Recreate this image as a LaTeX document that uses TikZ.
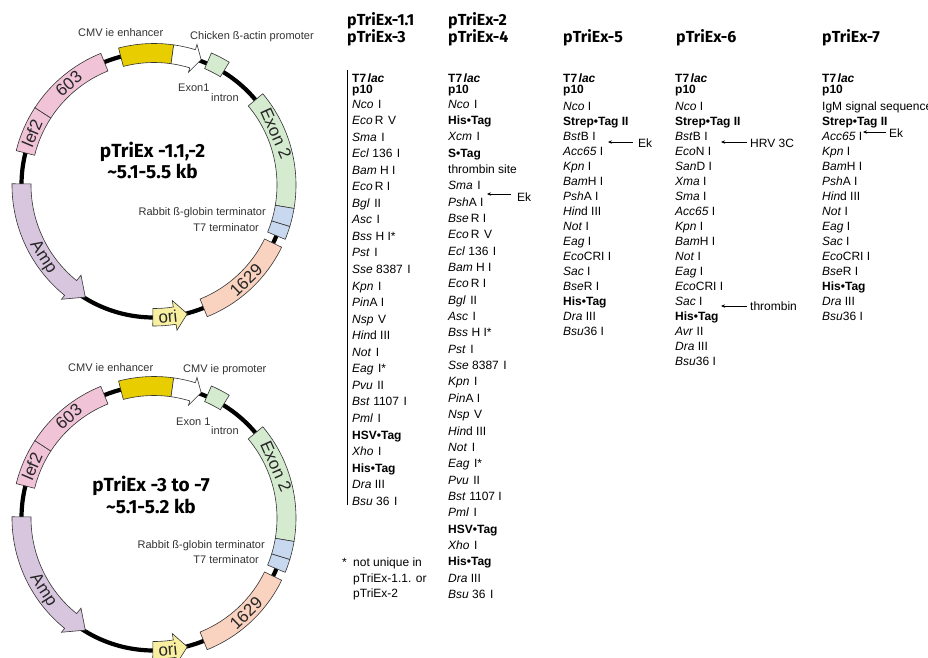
\documentclass[tikz,border=0pt]{standalone}
\usepackage{fontspec}
\setmainfont{Liberation Sans}
\newfontfamily\hfont{Fira Sans}
\usetikzlibrary{arrows.meta}
\definecolor{cmvY}{RGB}{232,206,0}
\definecolor{pinkS}{RGB}{240,196,214}
\definecolor{greenS}{RGB}{213,235,207}
\definecolor{blueS}{RGB}{200,216,238}
\definecolor{salmonS}{RGB}{250,211,192}
\definecolor{lavS}{RGB}{215,198,222}
\definecolor{oriY}{RGB}{248,240,160}
\newcommand\iz[1]{\textit{#1}}
\newcommand\gp{\hspace{4.5pt}}
\newcommand\bt[1]{\textbf{#1}}
\newcommand\seg[5]{\filldraw[segline,fill=#5] (#1:#4) arc[start angle=#1,end angle=#2,radius=#4] -- (#2:#3) arc[start angle=#2,end angle=#1,radius=#3] -- cycle;}
\newcommand\arrseg[9]{\filldraw[segline,fill=#9] (#1:#5) arc[start angle=#1,end angle=#2,radius=#5] -- (#2:#7) -- (#3:#8) -- (#2:#6) -- (#2:#4) arc[start angle=#2,end angle=#1,radius=#4] -- cycle;}
\newcommand\plasmid[3]{%
\begin{scope}[shift={(#2,#3)},yscale=-1]
 \draw[ring] (0,0) circle[radius=132.5];
 \seg{147}{166}{123}{142}{pinkS}
 \seg{112}{147}{123}{142}{pinkS}
 \seg{82}{104.5}{122.5}{141.5}{cmvY}
 \arrseg{82}{73}{69.4}{122.5}{141.5}{118}{147}{134}{white}
 \seg{58.5}{66.5}{127}{144}{greenS}
 \seg{-9.5}{40}{123}{142}{greenS}
 \seg{-17}{-9.5}{123}{142}{blueS}
 \seg{-22.5}{-17}{123}{142}{blueS}
 \seg{-68}{-26}{123}{142}{salmonS}
 \arrseg{-90.5}{-81}{-75.5}{123.5}{141}{117}{147}{133}{oriY}
 \arrseg{179.5}{231}{238.5}{123}{142}{116}{147}{131.5}{lavS}
 \node[seglabel, rotate=40] (#1-603) at (130:132.5) {603};
 \node[seglabel, rotate=67] (#1-lef) at (157:132.5) {lef2};
 \node[seglabel, rotate=-66] (#1-ex2) at (23:132.5) {Exon 2};
 \node[seglabel, rotate=44] (#1-1629) at (-46:132.5) {1629};
 \node[seglabel, rotate=-57] (#1-amp) at (213:132.5) {Amp};
 \node[seglabel, rotate=6] (#1-ori) at (-84:132.5) {ori};
\end{scope}}
\begin{document}
\begin{tikzpicture}[x=1pt,y=-1pt,
  segline/.style={draw=black!80, line width=0.6pt},
  ring/.style={line width=4.2pt},
  seglabel/.style={font=\fontsize{17}{17}\selectfont, text=black!85, inner sep=0},
  maplabel/.style={font=\fontsize{11}{11}\selectfont, text=black!80, inner sep=0},
  body/.style={font=\fontsize{12}{12}\selectfont, inner sep=0, anchor=base west},
  hdr/.style={font=\hfont\bfseries\fontsize{16}{16}\selectfont, inner sep=0, anchor=base west},
  ctr/.style={font=\hfont\bfseries\fontsize{19}{19}\selectfont, inner sep=0, anchor=base},
  cut/.style={-{Stealth[length=4pt,width=3.4pt]}, line width=0.7pt}]
\path[use as bounding box, fill=white] (0,0) rectangle (928,657);

% plasmid maps
\plasmid{t}{154}{185}
\plasmid{b}{154}{518}
\node[ctr] (t-name) at (152.5,157) {pTriEx -1.1,-2};
\node[ctr] (t-size) at (152.5,178) {\textasciitilde5.1-5.5 kb};
\node[ctr] (b-name) at (151,491) {pTriEx -3 to -7};
\node[ctr] (b-size) at (151,513) {\textasciitilde5.1-5.2 kb};

\node[maplabel, anchor=base west] (t-cmv) at (78,36) {CMV ie enhancer};
\node[maplabel, anchor=base west] (t-prom) at (190,39) {Chicken ß-actin promoter};
\node[maplabel, anchor=base west] (t-ex1) at (178,91) {Exon1};
\node[maplabel, anchor=base west] (t-intron) at (211,101) {intron};
\node[maplabel, anchor=base east] (t-rab) at (266,215) {Rabbit ß-globin terminator};
\node[maplabel, anchor=base east] (t-t7) at (259,231) {T7 terminator};

\node[maplabel, anchor=base west] (b-cmv) at (68,371) {CMV ie enhancer};
\node[maplabel, anchor=base west] (b-prom) at (183,372) {CMV ie promoter};
\node[maplabel, anchor=base west] (b-ex1) at (176,425) {Exon 1};
\node[maplabel, anchor=base west] (b-intron) at (211,434) {intron};
\node[maplabel, anchor=base east] (b-rab) at (265,548) {Rabbit ß-globin terminator};
\node[maplabel, anchor=base east] (b-t7) at (259,563) {T7 terminator};

% headers
\node[hdr] (h1) at (347,25) {pTriEx-1.1};
\node[hdr] (h3) at (347,42) {pTriEx-3};
\node[hdr] (h2) at (448,25) {pTriEx-2};
\node[hdr] (h4) at (448,42) {pTriEx-4};
\node[hdr] (h5) at (563,42) {pTriEx-5};
\node[hdr] (h6) at (676,42) {pTriEx-6};
\node[hdr] (h7) at (822,42) {pTriEx-7};

% column 1
\coordinate (c1-top) at (347,70);
\coordinate (c1-bot) at (347,505);
\draw[line width=0.9pt] (c1-top) -- (c1-bot);
\node[body] (c1-t7) at (352,82) {\bt{T7\kern1.5pt\iz{lac}}};
\node[body] (c1-p10) at (352,93) {\bt{p10}};
\foreach \entry [count=\i from 0] in {{\iz{Nco}\gp I},{\iz{Eco}\,R\gp V},{\iz{Sma}\gp I},{\iz{Ecl} 136\gp I},{\iz{Bam} H I},{\iz{Eco}\,R I},{\iz{Bgl}\gp II},{\iz{Asc}\gp I},{\iz{Bss} H I*},{\iz{Pst}\gp I},{\iz{Sse} 8387\gp I},{\iz{Kpn}\gp I},{\iz{Pin}A I},{\iz{Nsp}\gp V},{\iz{Hin}d III},{\iz{Not}\gp I},{\iz{Eag}\gp I*},{\iz{Pvu}\gp II},{\iz{Bst} 1107\gp I},{\iz{Pml}\gp I},{\bt{HSV•Tag}},{\iz{Xho}\gp I},{\bt{His•Tag}},{\iz{Dra} III},{\iz{Bsu} 36\gp I}}
  \node[body] (c1-\i) at (352,{108+\i*16.55}) {\entry};

% column 2
\node[body] (c2-t7) at (448,82) {\bt{T7\kern1.5pt\iz{lac}}};
\node[body] (c2-p10) at (448,93) {\bt{p10}};
\foreach \entry [count=\i from 0] in {{\iz{Nco}\gp I},{\bt{His•Tag}},{\iz{Xcm}\gp I},{\bt{S•Tag}},{thrombin site},{\iz{Sma}\gp I},{\iz{Psh}A I},{\iz{Bse}\,R I},{\iz{Eco}\,R\gp V},{\iz{Ecl} 136\gp I},{\iz{Bam} H I},{\iz{Eco}\,R I},{\iz{Bgl}\gp II},{\iz{Asc}\gp I},{\iz{Bss} H I*},{\iz{Pst}\gp I},{\iz{Sse} 8387\gp I},{\iz{Kpn}\gp I},{\iz{Pin}A I},{\iz{Nsp}\gp V},{\iz{Hin}d III},{\iz{Not}\gp I},{\iz{Eag}\gp I*},{\iz{Pvu}\gp II},{\iz{Bst} 1107 I},{\iz{Pml}\gp I},{\bt{HSV•Tag}},{\iz{Xho}\gp I},{\bt{His•Tag}},{\iz{Dra} III},{\iz{Bsu} 36\gp I}}
  \node[body] (c2-\i) at (448,{108+\i*16.35}) {\entry};

% column 3
\node[body] (c3-t7) at (563,82) {\bt{T7\kern1.5pt\iz{lac}}};
\node[body] (c3-p10) at (563,93) {\bt{p10}};
\foreach \entry [count=\i from 0] in {{\iz{Nco} I},{\bt{Strep•Tag II}},{\iz{Bst}B I},{\iz{Acc65} I},{\iz{Kpn} I},{\iz{Bam}H I},{\iz{Psh}A I},{\iz{Hin}d III},{\iz{Not} I},{\iz{Eag} I},{\iz{Eco}CRI I},{\iz{Sac} I},{\iz{Bse}R I},{\bt{His•Tag}},{\iz{Dra} III},{\iz{Bsu}36 I}}
  \node[body] (c3-\i) at (563,{110+\i*15}) {\entry};

% column 4
\node[body] (c4-t7) at (675,82) {\bt{T7\kern1.5pt\iz{lac}}};
\node[body] (c4-p10) at (675,93) {\bt{p10}};
\foreach \entry [count=\i from 0] in {{\iz{Nco} I},{\bt{Strep•Tag II}},{\iz{Bst}B I},{\iz{Eco}N I},{\iz{San}D I},{\iz{Xma} I},{\iz{Sma} I},{\iz{Acc65} I},{\iz{Kpn} I},{\iz{Bam}H I},{\iz{Not} I},{\iz{Eag} I},{\iz{Eco}CRI I},{\iz{Sac} I},{\bt{His•Tag}},{\iz{Avr} II},{\iz{Dra} III},{\iz{Bsu}36 I}}
  \node[body] (c4-\i) at (675,{110+\i*15}) {\entry};

% column 5
\node[body] (c5-t7) at (822,82) {\bt{T7\kern1.5pt\iz{lac}}};
\node[body] (c5-p10) at (822,93) {\bt{p10}};
\foreach \entry [count=\i from 0] in {{IgM signal sequence},{\bt{Strep•Tag II}},{\iz{Acc65} I},{\iz{Kpn} I},{\iz{Bam}H I},{\iz{Psh}A I},{\iz{Hin}d III},{\iz{Not} I},{\iz{Eag} I},{\iz{Sac} I},{\iz{Eco}CRI I},{\iz{Bse}R I},{\bt{His•Tag}},{\iz{Dra} III},{\iz{Bsu}36 I}}
  \node[body] (c5-\i) at (822,{110+\i*15}) {\entry};

% cleavage arrows
\node[body] (ek2) at (517,201) {Ek};
\coordinate (ek2h) at (487,194);
\coordinate (ek2t) at (511,194);
\draw[cut] (ek2t) -- (ek2h);
\node[body] (ek3) at (638,147) {Ek};
\coordinate (ek3h) at (608,142);
\coordinate (ek3t) at (633,142);
\draw[cut] (ek3t) -- (ek3h);
\node[body] (hrv) at (750,147) {HRV 3C};
\coordinate (hrvh) at (721,142);
\coordinate (hrvt) at (747,142);
\draw[cut] (hrvt) -- (hrvh);
\node[body] (thr) at (750,310) {thrombin};
\coordinate (thrh) at (721,306);
\coordinate (thrt) at (747,306);
\draw[cut] (thrt) -- (thrh);
\node[body] (ek5) at (889,137) {Ek};
\coordinate (ek5h) at (863,132);
\coordinate (ek5t) at (886,132);
\draw[cut] (ek5t) -- (ek5h);

% footnote
\node[body] (fn-star) at (342,566) {*};
\node[body] (fn-1) at (353,566) {not unique in};
\node[body] (fn-2) at (353,582) {pTriEx-1.1. or};
\node[body] (fn-3) at (353,597) {pTriEx-2};
\end{tikzpicture}
\end{document}
